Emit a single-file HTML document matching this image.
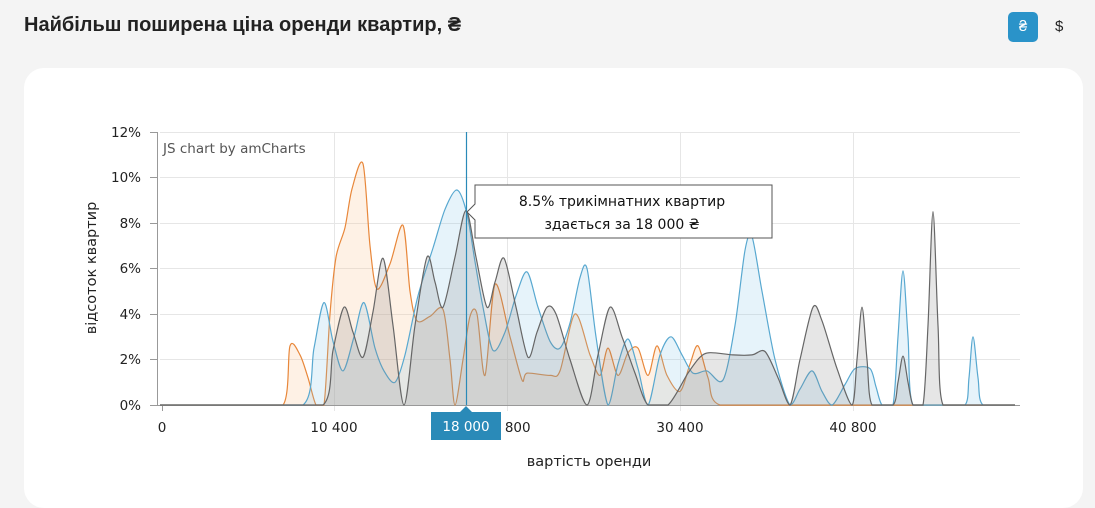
<!DOCTYPE html>
<html><head><meta charset="utf-8"><style>
body{margin:0;width:1095px;height:481px;background:#f4f4f4;font-family:"Liberation Sans",sans-serif;overflow:hidden;position:relative}
.title{position:absolute;left:24px;top:14px;font-size:20px;font-weight:bold;color:#222}
.btn{position:absolute;left:1008px;top:12px;width:30px;height:30px;border-radius:5px;background:#2a93c9;color:#fff;font-size:15px;text-align:center;line-height:30px}
.usd{position:absolute;left:1055px;top:12px;width:14px;line-height:30px;font-size:15px;color:#222}
.card{position:absolute;left:24px;top:68px;width:1059px;height:440px;background:#fff;border-radius:20px}
svg{position:absolute;left:0;top:0}
text{font-family:"DejaVu Sans",sans-serif}
</style></head><body>
<div class="title">Найбільш поширена ціна оренди квартир, ₴</div>
<div class="btn">₴</div><div class="usd">$</div>
<div class="card"></div>
<svg width="1095" height="481" viewBox="0 0 1095 481">
<g stroke="#e6e6e6" stroke-width="1">
<line x1="160" y1="132.5" x2="1020" y2="132.5"/><line x1="160" y1="177.5" x2="1020" y2="177.5"/><line x1="160" y1="223.5" x2="1020" y2="223.5"/><line x1="160" y1="268.5" x2="1020" y2="268.5"/><line x1="160" y1="314.5" x2="1020" y2="314.5"/><line x1="160" y1="359.5" x2="1020" y2="359.5"/>
<line x1="334.5" y1="132" x2="334.5" y2="411"/><line x1="507.5" y1="132" x2="507.5" y2="411"/><line x1="680.5" y1="132" x2="680.5" y2="411"/><line x1="853.5" y1="132" x2="853.5" y2="411"/>
</g>
<g stroke="#999" stroke-width="1">
<line x1="157.5" y1="132" x2="157.5" y2="405"/><line x1="150" y1="132.5" x2="157" y2="132.5"/><line x1="150" y1="177.5" x2="157" y2="177.5"/><line x1="150" y1="223.5" x2="157" y2="223.5"/><line x1="150" y1="268.5" x2="157" y2="268.5"/><line x1="150" y1="314.5" x2="157" y2="314.5"/><line x1="150" y1="359.5" x2="157" y2="359.5"/><line x1="150" y1="405.5" x2="157" y2="405.5"/>
<line x1="157" y1="405.5" x2="1020" y2="405.5"/><line x1="162.5" y1="405" x2="162.5" y2="411"/>
</g>
<g font-size="13.5" fill="#222" text-anchor="end">
<text x="141" y="137">12%</text><text x="141" y="182">10%</text><text x="141" y="228">8%</text><text x="141" y="273">6%</text><text x="141" y="319">4%</text><text x="141" y="364">2%</text><text x="141" y="410">0%</text>
</g>
<g font-size="13.5" fill="#222" text-anchor="middle">
<text x="162" y="432">0</text><text x="334" y="432">10 400</text><text x="507" y="432">20 800</text><text x="680" y="432">30 400</text><text x="853" y="432">40 800</text>
<text x="589" y="466" font-size="14.5">вартість оренди</text>
<text transform="translate(96,268) rotate(-90)" font-size="14.5">відсоток квартир</text>
</g>
<text x="163" y="153" font-size="13.5" fill="#555">JS chart by amCharts</text>
<g id="series"></g>
<line x1="466.5" y1="132" x2="466.5" y2="405" stroke="#2a8ab8" stroke-width="1.2"/>
<path d="M475,185 H772 V238 H475 V220 L467,212 L475,204 Z" fill="#fff" stroke="#555" stroke-width="1"/>
<text x="622" y="206" font-size="14" fill="#111" text-anchor="middle">8.5% трикімнатних квартир</text>
<text x="622" y="229" font-size="14" fill="#111" text-anchor="middle">здається за 18 000 ₴</text>
<path d="M431,412 H460 L466,406 L472,412 H501 V440 H431 Z" fill="#2a8ab8"/>
<text x="466" y="431" font-size="13.5" fill="#fff" text-anchor="middle">18 000</text>
</svg>
<script>
const Y=p=>405-p*22.75;
const S=[
{c:"#e8873a",f:"rgba(250,200,150,0.25)",d:[[160,0],[283,0],[290,2.6],[300,2.2],[308,1.2],[316,0],[324,0],[330,4],[336,6.5],[345,7.8],[352,9.5],[363,10.6],[370,7],[377,5.1],[390,6.2],[403,7.9],[410,5],[417,3.7],[430,3.9],[443,4.2],[450,2],[455,0],[463,2],[470,3.9],[477,4.0],[485,1.3],[495,5.3],[510,3],[522,1.1],[527,1.4],[550,1.3],[560,1.5],[575,4.0],[590,2.2],[600,1.3],[608,2.5],[618,1.3],[628,2.3],[638,2.5],[648,1.3],[657,2.6],[667,1.3],[680,0.6],[690,1.8],[698,2.6],[708,1.2],[720,0],[1015,0]]},
{c:"#58a8d0",f:"rgba(130,195,230,0.2)",d:[[160,0],[303,0],[314,2.5],[324,4.5],[333,2.8],[343,1.5],[354,3],[364,4.5],[375,2.5],[384,1.5],[395,1.0],[405,2.2],[418,4.8],[433,6.9],[445,8.6],[457,9.45],[467,8.4],[475,6.3],[483,4.3],[493,2.4],[505,3.2],[516,4.8],[527,5.85],[538,4.3],[550,2.8],[560,2.5],[570,3.6],[580,5.6],[587,6.0],[596,3],[608,0],[618,1.8],[628,2.9],[638,1.6],[648,0],[660,2.2],[671,3.0],[682,2.2],[693,1.4],[707,1.5],[723,1.1],[735,3.5],[745,6.8],[752,7.4],[762,5],[775,2],[790,0],[800,0.7],[812,1.5],[822,0.6],[832,0],[845,0.9],[855,1.6],[870,1.6],[876,0.8],[882,0],[893,0],[898,3],[903,5.9],[908,3],[913,0],[965,0],[969,1.2],[973,3.0],[978,1.2],[983,0],[1015,0]]},
{c:"#666",f:"rgba(130,130,130,0.2)",d:[[160,0],[323,0],[333,2.4],[344,4.3],[353,3.2],[363,2.1],[373,4.1],[383,6.45],[393,3.5],[404,0],[415,3.5],[427,6.5],[435,5.4],[443,4.3],[455,6.5],[466,8.55],[476,6.5],[487,4.3],[495,5.4],[504,6.45],[516,4.3],[528,2.1],[537,3.2],[547,4.3],[556,4.0],[570,2],[587,0],[598,2.2],[610,4.3],[622,3],[635,1.4],[648,0],[668,0],[688,1.4],[700,2.1],[710,2.3],[733,2.2],[752,2.2],[765,2.35],[778,1.2],[790,0],[800,2],[813,4.3],[822,3.7],[837,1.6],[852,0],[857,2],[862,4.3],[867,2],[872,0],[893,0],[898,1],[903,2.15],[908,1],[913,0],[923,0],[928,3.5],[933,8.5],[938,3.5],[943,0],[1015,0]]}
];
const cl=(v,a,b)=>Math.max(Math.min(a,b),Math.min(Math.max(a,b),v));
function path(d){let s=`M${d[0][0]},${Y(d[0][1])}`;for(let i=0;i<d.length-1;i++){const p0=d[i-1]||d[i],p1=d[i],p2=d[i+1],p3=d[i+2]||p2;const t=0.15;
let c1x=cl(p1[0]+(p2[0]-p0[0])*t,p1[0],p2[0]),c1y=Y(p1[1])+(Y(p2[1])-Y(p0[1]))*t,c2x=cl(p2[0]-(p3[0]-p1[0])*t,p1[0],p2[0]),c2y=Y(p2[1])-(Y(p3[1])-Y(p1[1]))*t;
c1y=Math.min(c1y,405);c2y=Math.min(c2y,405);s+=` C${c1x.toFixed(1)},${c1y.toFixed(1)} ${c2x.toFixed(1)},${c2y.toFixed(1)} ${p2[0]},${Y(p2[1]).toFixed(1)}`;}return s;}
const g=document.getElementById("series");let h="";
for(const s of S){const p=path(s.d);h+=`<path d="${p} L${s.d[s.d.length-1][0]},405 L${s.d[0][0]},405 Z" fill="${s.f}"/><path d="${p}" fill="none" stroke="${s.c}" stroke-width="1.2"/>`;}
g.innerHTML=h;
</script>
</body></html>
